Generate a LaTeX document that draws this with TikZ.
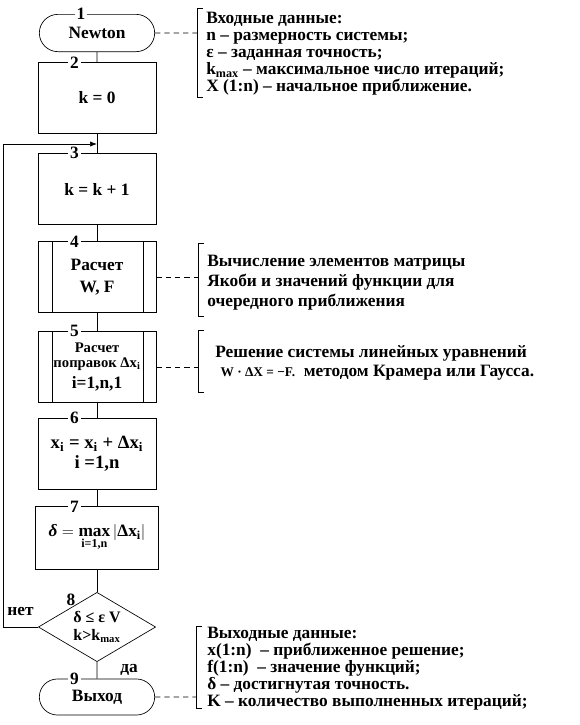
\documentclass[tikz,border=0pt]{standalone}
\usepackage{amsmath}
\usepackage{fontspec}
\setmainfont{Liberation Serif}
\usetikzlibrary{arrows.meta,shapes.geometric,shapes.misc}

\begin{document}
\begin{tikzpicture}[x=0.75pt,y=-0.75pt,>=Latex,line width=0.5pt,
  every node/.style={font=\bfseries\fontsize{13}{14}\selectfont},
  box/.style={draw,align=center,minimum width=88.5pt,minimum height=53pt,inner sep=1pt},
  term/.style={draw,rounded rectangle,minimum width=88.5pt,minimum height=28pt,inner sep=1pt},
  num/.style={fill=white,inner sep=1.5pt,font=\bfseries\fontsize{13}{13}\selectfont},
  note/.style={anchor=north west,align=left,inner sep=0pt,font=\bfseries\fontsize{13}{12.75}\selectfont},
  cmt/.style={dash pattern=on 4pt off 3pt}]
  \useasboundingbox (0,0) rectangle (580,725);

  % blocks
  \node[term] (t1) at (97,33) {Newton};
  \node[box] (b2) at (97,98) {k = 0};
  \node[box] (b3) at (97,189) {k = k + 1};
  \node[box] (b4) at (97,277) {Расчет\\[2pt]W, F};
  \node[box,font=\bfseries\fontsize{11}{11}\selectfont] (b5) at (97,367)
    {Расчет\\поправок Δx\textsubscript{i}\\[3pt]{\fontsize{13}{13}\selectfont i=1,n,1}};
  \node[box,font=\bfseries\fontsize{14}{15}\selectfont] (b6) at (97,454) {x\textsubscript{i} = x\textsubscript{i} + Δx\textsubscript{i}\\i =1,n};
  \node[box,minimum width=92pt,minimum height=47pt] (b7) at (97,538)
    {$\text{\itshape δ} = \mathop{\text{max}}\limits_{\text{i=1,n}} \left|\text{Δx}_{\text{i}}\right|$};
  \node[draw,diamond,aspect=1.7,inner sep=0pt,minimum width=88pt,minimum height=52pt,
    align=center,font=\bfseries\fontsize{12}{13}\selectfont] (d8) at (97,627)
    {δ ≤ ε V\\k>k\textsubscript{max}};
  \node[term,minimum height=27pt] (t9) at (97,697) {Выход};

  \foreach \n in {b4,b5} {
    \draw ([xshift=11pt]\n.north west) -- ([xshift=11pt]\n.south west);
    \draw ([xshift=-10pt]\n.north east) -- ([xshift=-10pt]\n.south east);
  }

  % numbers
  \node[num] (n1) at ([xshift=-12pt]t1.north) {1};
  \foreach \n/\k in {b2/2,b3/3,b4/4,b5/5,b6/6,b7/7,t9/9}
    \node[num] (n\k) at ([xshift=-17pt]\n.north) {\k};
  \node[num,fill=none] (n8) at (71,600) {8};

  % flow
  \coordinate (join) at (97,144);
  \draw (t1) -- (b2);
  \draw (b2) -- (b3);
  \draw (b3) -- (b4);
  \draw (b4) -- (b5);
  \draw (b5) -- (b6);
  \draw (b6) -- (b7);
  \draw (b7) -- (d8);
  \draw (d8) -- node[right,xshift=14pt] (yes) {да} (t9);
  \draw[->] (d8.west) -- node[above,yshift=5pt] (no) {нет} ++(-35,0) |- (join);

  % comments
  \coordinate (k1) at (197,33);
  \coordinate (k2) at (198,277);
  \coordinate (k3) at (198,367);
  \coordinate (k4) at (196,697);
  \draw[cmt] (t1) -- (k1);
  \draw[cmt] (b4) -- (k2);
  \draw[cmt] (b5) -- (k3);
  \draw[cmt] (t9) -- (k4);
  \draw (203,8) -- (197,8) -- (197,97) -- (203,97);
  \draw (204,243) -- (198,243) -- (198,316) -- (204,316);
  \draw (204,330) -- (198,330) -- (198,392) -- (204,392);
  \draw (202,626) -- (196,626) -- (196,708) -- (202,708);

  \node[note] (note1) at (206,12) {Входные данные:\\n – размерность системы;\\ε – заданная точность;\\k\textsubscript{max} – максимальное число итераций;\\X (1:n) – начальное приближение.};
  \node[note,font=\bfseries\fontsize{13}{15}\selectfont] (note2) at (207,255) {Вычисление элементов матрицы\\Якоби и значений функции для\\очередного приближения};
  \node[note,font=\bfseries\fontsize{13}{14.25}\selectfont] (note3) at (215,345) {Решение системы линейных уравнений\\\hspace{4pt}{\fontsize{10}{10}\selectfont W · ΔX = −F.}\ \ методом Крамера или Гаусса.};
  \node[note] (note4) at (207,627) {Выходные данные:\\x(1:n) \ – приближенное решение;\\f(1:n) \ – значение функций;\\δ – достигнутая точность.\\K – количество выполненных итераций;};
\end{tikzpicture}
\end{document}
